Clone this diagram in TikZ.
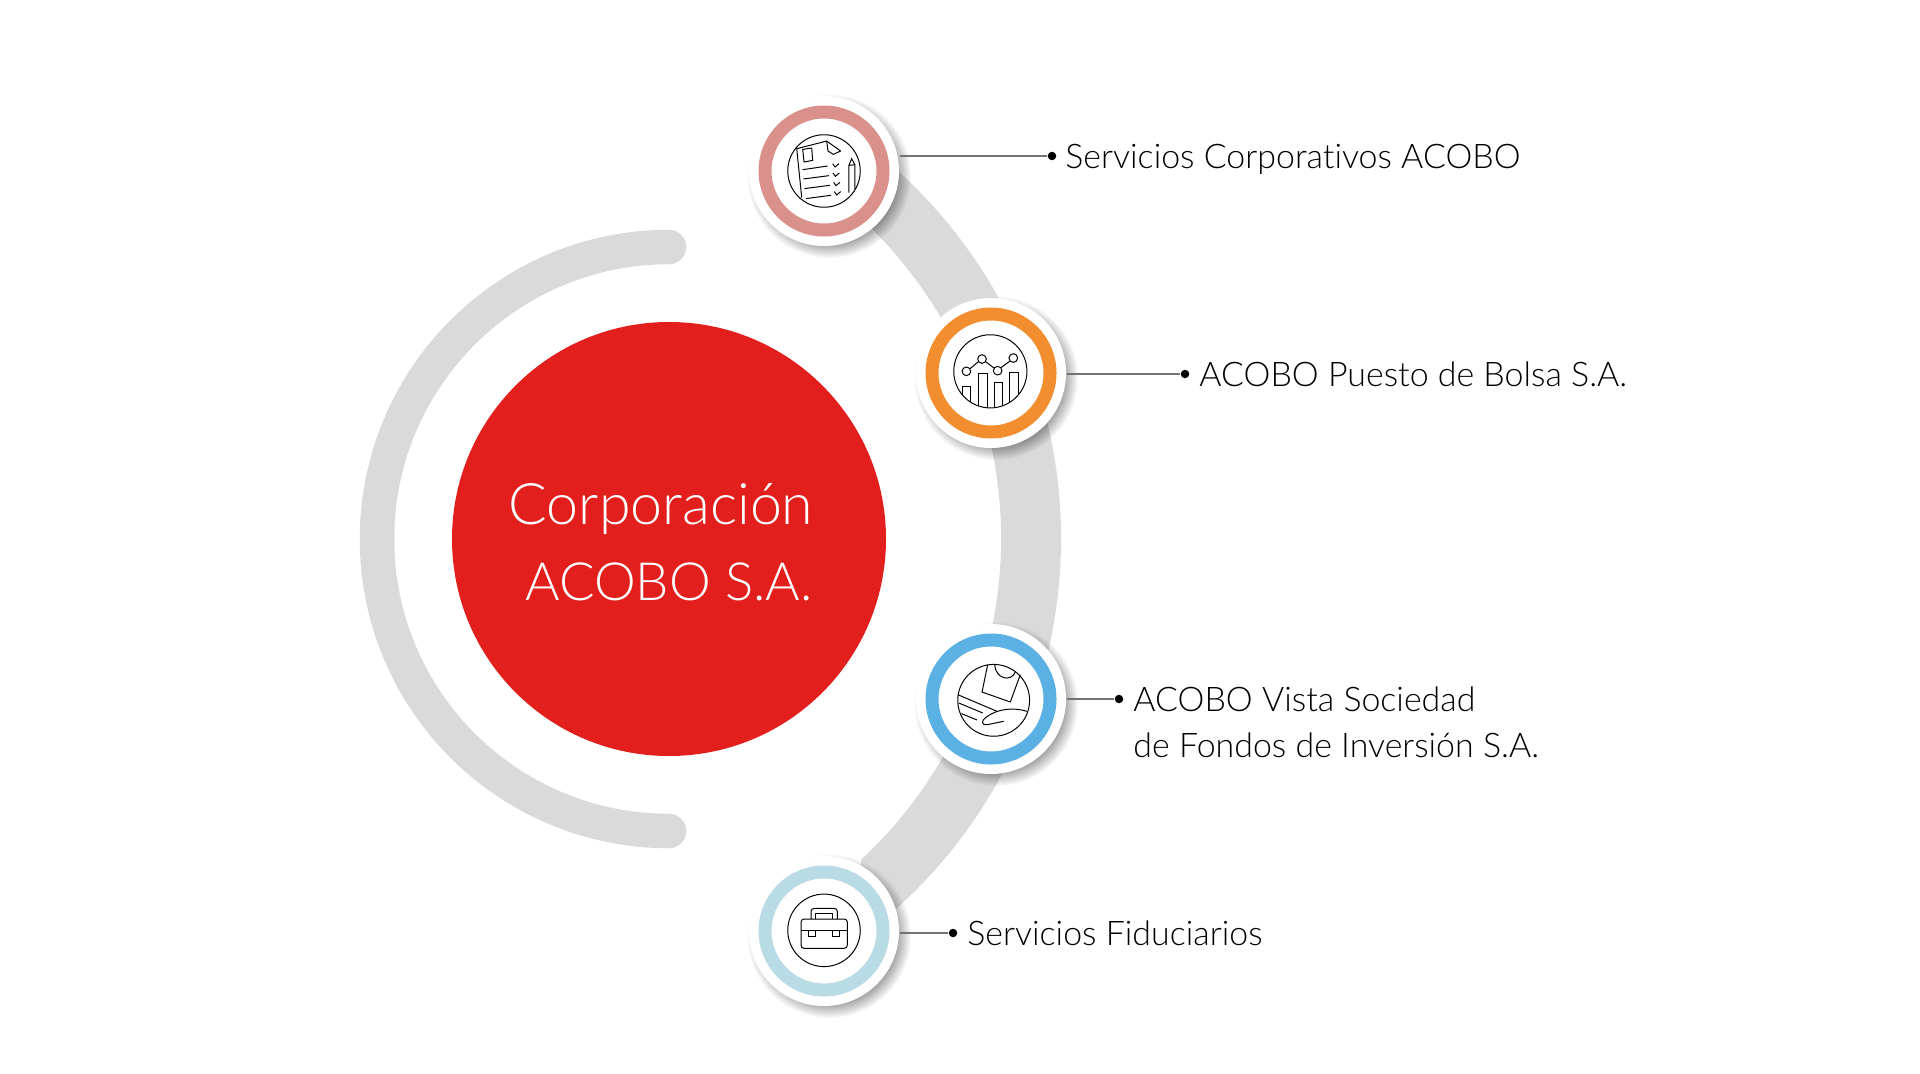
\documentclass[tikz,border=0pt]{standalone}
\usepackage{fontspec}
\setmainfont[Ligatures=NoCommon]{Lato Light}
\usetikzlibrary{fadings}
\definecolor{bandgray}{HTML}{DADADA}
\definecolor{hubred}{HTML}{E21F1C}
\definecolor{ringrose}{HTML}{DB918B}
\definecolor{ringorange}{HTML}{F28E30}
\definecolor{ringblue}{HTML}{5CB1E4}
\definecolor{ringpale}{HTML}{B9DBE6}
\begin{document}
\begin{tikzpicture}
	\tikzset{discstyle/.style={circle, fill=white, minimum size=1.5cm, inner sep=0},
		ringstyle/.style={circle, draw, line width=.13cm, minimum size=1.18cm, inner sep=0},
		dotstyle/.style={circle, fill=black, minimum size=.085cm, inner sep=0},
		labelstyle/.style={anchor=west, align=left, font=\fontsize{9.65}{13.2}\selectfont},
		leader/.style={draw=black!55, line width=.015cm},
		shadowstyle/.style={black, opacity=.4, path fading=circle with fuzzy edge 20 percent},
		iconline/.style={x=.0033333cm, y=-.0033333cm, line width=.28pt, black}}
	\useasboundingbox (0,0) rectangle (19.2,10.73);

	% grey arcs behind everything
	\draw[bandgray, line width=.345cm, line cap=round] (6.69,8.26) arc (90:270:2.92);
	\begin{scope}
		\clip (8.61,0) rectangle (11,10.73);
		\draw[bandgray, line width=.6cm] (5.64,5.34) ++(-60:4.67) arc (-60:60:4.67);
	\end{scope}

	\node[circle, fill=hubred, minimum size=4.34cm, inner sep=0] (hub) at (6.69,5.34) {};
	\node[text=white, align=center] (hubtext) at (6.69,5.31) {\fontsize{16.3}{21.6}\selectfont Corporación\hspace{.16cm}\mbox{}\\[.25cm]\fontsize{15}{21.6}\selectfont ACOBO S.A.};

	% icons
	\fill[shadowstyle] (8.29,8.97) circle (.82);
	\fill[shadowstyle] (9.96,6.95) circle (.82);
	\fill[shadowstyle] (9.96,3.69) circle (.82);
	\fill[shadowstyle] (8.29,1.37) circle (.82);

	\node[discstyle] (discdocs) at (8.24,9.02) {};
	\node[discstyle] (discbolsa) at (9.91,7.00) {};
	\node[discstyle] (discvista) at (9.91,3.74) {};
	\node[discstyle] (discfidu) at (8.24,1.42) {};
	\node[ringstyle, draw=ringrose] (ringdocs) at (discdocs) {};
	\node[ringstyle, draw=ringorange] (ringbolsa) at (discbolsa) {};
	\node[ringstyle, draw=ringblue] (ringvista) at (discvista) {};
	\node[ringstyle, draw=ringpale] (ringfidu) at (discfidu) {};

	% document icon
	\begin{scope}[shift={(discdocs.center)}, iconline]
		\draw (0,0) circle (109);
		\draw (-67,80) -- (-82,-67) -- (8,-90) -- (50,-60);
		\draw (8,-90) -- (12,-60) -- (28,-50) -- (50,-60);
		\draw (-64,-65) -- (-37,-69) -- (-34,-32) -- (-60,-27) -- cycle;
		\draw (-64,-4) -- (11,-15);
		\draw (-62,24) -- (15,14);
		\draw (-59,53) -- (18,43);
		\draw (-54,83) -- (21,73);
		\foreach \y/\x in {0/0,28/1,56/3,84/5}
			\draw (26+\x,-22+\y) -- (33+\x,-12+\y) -- (45+\x,-22+\y);
		\draw (75,65) -- (75,-17) -- (83,-37) -- (93,-19) -- (93,55);
		\draw (75,-17) -- (93,-19);
	\end{scope}

	% chart icon
	\begin{scope}[shift={(discbolsa.center)}, iconline]
		\draw (-2,-5) circle (110);
		\draw (-74,-5) circle (13);
		\draw (-27,-42) circle (13);
		\draw (20,-7) circle (13);
		\draw (67,-45) circle (13);
		\draw (-63,-13) -- (-38,-34);
		\draw (-16,-34) -- (9,-15);
		\draw (30,-16) -- (57,-36);
		\begin{scope}
			\clip (-2,-5) circle (110);
			\draw (-85,200) -- (-85,42) -- (-62,42) -- (-62,200);
			\draw (-39,200) -- (-39,2) -- (-12,2) -- (-12,200);
			\draw (10,200) -- (10,30) -- (34,30) -- (34,200);
			\draw (56,200) -- (56,-3) -- (82,-3) -- (82,200);
		\end{scope}
	\end{scope}

	% hand icon
	\begin{scope}[shift={(discvista.center)}, iconline]
		\draw (8,4) circle (108);
		\draw (-10,-103) -- (-27,-21) -- (58,9) -- (88,-73);
		\draw (11,-103) .. controls (14,-60) and (60,-50) .. (73,-81);
		\draw (-100,-13) -- (18,37);
		\draw (-97,12) -- (-25,42);
		\draw (-89,44) -- (-42,63);
		\draw (108,37) .. controls (70,25) and (20,28) .. (-15,55) .. controls (-30,65) and (-30,80) .. (-10,77) -- (38,67);
	\end{scope}

	% case icon
	\begin{scope}[shift={(discfidu.center)}, iconline]
		\draw (0,-2) circle (109);
		\draw[rounded corners=.03cm] (-69,-36) rectangle (70,52);
		\draw (-69,-1) -- (70,-1);
		\draw[rounded corners=.03cm] (-39,-36) -- (-39,-68) -- (40,-68) -- (40,-36);
		\draw (-26,-36) -- (-26,-53) -- (26,-53) -- (26,-36);
		\draw (-46,-1) -- (-46,15) -- (-26,15) -- (-26,-1);
		\draw (26,-1) -- (26,15) -- (46,15) -- (46,-1);
	\end{scope}

	% labels
	\node[dotstyle] (dotdocs) at (10.52,9.17) {};
	\node[dotstyle] (dotbolsa) at (11.85,6.99) {};
	\node[dotstyle] (dotvista) at (11.19,3.74) {};
	\node[dotstyle] (dotfidu) at (9.53,1.40) {};

	\draw[leader] (discdocs.east |- dotdocs) -- (dotdocs);
	\draw[leader] (discbolsa.east |- dotbolsa) -- (dotbolsa);
	\draw[leader] (discvista.east |- dotvista) -- (dotvista);
	\draw[leader] (discfidu.east |- dotfidu) -- (dotfidu);

	\node[labelstyle] (textdocs) at (10.53,9.14) {Servicios Corporativos ACOBO};
	\node[labelstyle] (textbolsa) at (11.87,6.99) {ACOBO Puesto de Bolsa S.A.};
	\node[labelstyle] (textvista) at (11.21,3.51) {ACOBO Vista Sociedad\\de Fondos de Inversión S.A.};
	\node[labelstyle] (textfidu) at (9.55,1.40) {Servicios Fiduciarios};
\end{tikzpicture}
\end{document}
